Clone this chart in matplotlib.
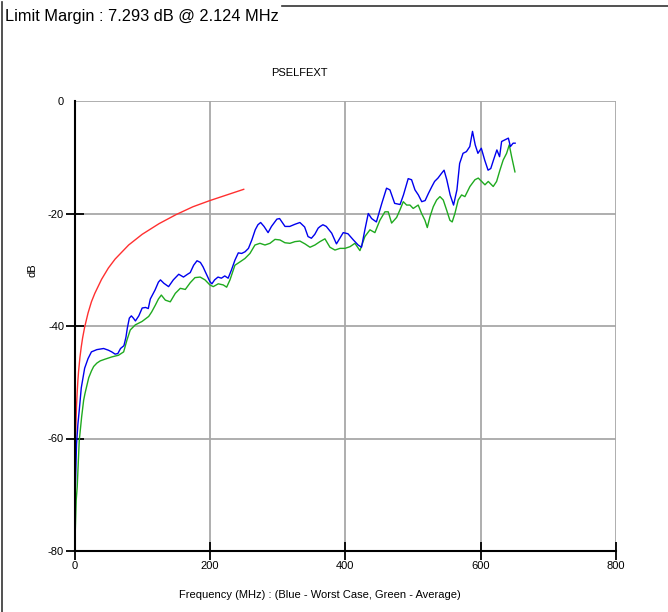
import matplotlib
matplotlib.use("Agg")
import matplotlib.pyplot as plt
from matplotlib.lines import Line2D

plt.rcParams['font.family'] = ['Liberation Sans', 'DejaVu Sans']

# ---- data ----
blue_f = [0.5, 1.0, 2.124, 3, 5, 7, 10, 15, 20, 25, 33, 43, 50, 55, 60, 64, 68, 73, 76, 78,
          81, 84, 87, 90, 95, 100, 105, 109, 112, 119, 124, 127, 132, 139, 146, 154, 161, 167,
          171, 176, 181, 186, 190, 193, 200, 203, 207, 212, 217, 222, 227, 232, 237, 242, 247,
          252, 257, 262, 267, 271, 275, 280, 286, 291, 299, 303, 311, 318, 326, 333, 340, 345,
          350, 355, 360, 363, 367, 372, 380, 387, 392, 397, 404, 412, 419, 424, 429, 434, 439,
          446, 454, 461, 466, 473, 481, 486, 493, 498, 503, 508, 513, 518, 523, 528, 532, 537,
          542, 546, 550, 555, 560, 565, 569, 574, 579, 584, 588, 592, 596, 601, 606, 611, 615,
          619, 624, 628, 631, 636, 641, 644, 648, 651]
blue_db = [-80, -70, -64.5, -61, -57.5, -55, -51, -47.5, -45.8, -44.6, -44.2, -44.0, -44.3,
           -44.6, -45.0, -44.9, -44.0, -43.5, -42.0, -40.4, -38.6, -38.2, -38.6, -39.1, -38.2,
           -36.8, -36.7, -36.9, -35.2, -33.6, -32.2, -31.8, -32.4, -33.0, -31.8, -30.8, -31.3,
           -30.8, -30.5, -29.2, -28.4, -28.7, -29.5, -30.3, -32.1, -32.5, -31.8, -31.3, -31.5,
           -31.1, -31.5, -30.0, -28.3, -27.0, -27.1, -26.8, -26.2, -24.7, -22.9, -22.0, -21.6,
           -22.3, -23.4, -22.3, -21.0, -20.9, -22.3, -22.3, -21.9, -21.6, -22.4, -24.1, -24.4,
           -23.7, -22.6, -22.3, -22.0, -22.3, -23.5, -25.4, -24.4, -23.4, -23.6, -24.7, -25.6,
           -26.0, -22.9, -20.0, -20.9, -21.5, -18.2, -15.5, -15.8, -18.2, -18.4, -16.7, -13.8,
           -14.0, -15.8, -16.7, -17.9, -17.7, -16.4, -15.2, -14.3, -13.7, -12.9, -12.3, -14.0,
           -16.7, -18.5, -15.8, -11.1, -9.3, -9.0, -8.1, -5.4, -7.8, -9.3, -8.4, -10.5, -12.3,
           -12.0, -10.5, -8.7, -9.9, -7.2, -6.9, -6.6, -8.1, -7.5, -7.5]

green_f = [0.7, 1, 2.5, 4, 7, 10.6, 13.5, 15.5, 21, 25, 28.3, 33, 38, 45, 55, 65, 72.6, 77.5,
           82.4, 89.8, 99.7, 109.6, 114, 119.4, 124, 128.3, 134.2, 141.5, 148.9, 156.3, 163.7,
           171, 178, 185.6, 192.8, 200, 205, 212.4, 219.8, 224.8, 229.7, 237, 244.5, 251.8,
           259.2, 266.6, 274, 281.4, 288.8, 296.2, 303.5, 310.9, 318.3, 325.7, 333, 340.5,
           347.9, 355.2, 362.6, 370, 377.4, 384.8, 392.2, 399.6, 407, 414.3, 421.7, 429, 436.5,
           443.8, 451.2, 458.6, 463.5, 468.5, 475.9, 481, 485.7, 490.7, 495.6, 500.4, 507.8,
           512.8, 517.7, 521.2, 525.1, 530, 535, 539.9, 544.8, 549.8, 554.6, 558, 562, 566.9,
           571.9, 576.8, 584.2, 591.6, 596.5, 601.5, 606.4, 611.3, 618.6, 623.6, 628.5, 633.3,
           638.4, 642.3, 645.8, 650.7]
green_db = [-80, -77, -71, -68.6, -60.4, -56.1, -53.2, -52, -49.2, -48, -47.2, -46.6, -46.2,
            -45.9, -45.5, -45.2, -44.6, -42.5, -40.7, -39.8, -39.2, -38.3, -37.5, -36.3, -35.2,
            -34.5, -35.4, -35.7, -34.2, -33.3, -33.5, -32.3, -31.4, -31.3, -31.8, -32.7, -33.0,
            -32.5, -32.7, -33.1, -31.8, -29.2, -28.6, -28.0, -27.1, -25.6, -25.3, -25.6, -25.3,
            -24.6, -24.7, -25.2, -25.3, -25.0, -24.9, -25.4, -26.0, -25.6, -25.0, -24.5, -26.0,
            -26.5, -26.2, -26.2, -25.9, -25.3, -26.6, -24.1, -22.9, -23.4, -21.2, -19.7, -19.7,
            -21.7, -20.7, -19.3, -17.9, -18.5, -18.5, -19.1, -18.5, -20.0, -21.2, -22.5, -20.6,
            -18.8, -17.6, -17.0, -17.6, -19.4, -21.2, -21.5, -20.0, -17.6, -16.7, -17.0, -15.2,
            -14.0, -13.7, -14.3, -14.9, -14.3, -15.2, -14.3, -12.3, -10.5, -9.3, -7.8, -9.9,
            -12.6]

limit_f = [1, 1.5, 2, 3, 4, 5, 6, 8, 10, 12, 15, 20, 25, 30, 40, 50, 60, 80, 100, 125, 150,
           175, 200, 225, 250]
limit_db = [-63.7, -60.2, -57.7, -54.2, -51.7, -49.7, -48.1, -45.6, -43.7, -42.1, -40.2, -37.7,
            -35.7, -34.2, -31.7, -29.7, -28.1, -25.6, -23.7, -21.8, -20.2, -18.8, -17.7, -16.7,
            -15.7]

x_ticks = [0, 200, 400, 600, 800]
y_ticks = [0, -20, -40, -60, -80]

header = "Limit Margin : 7.293 dB @ 2.124 MHz"
chart_title = "PSELFEXT"
x_label = "Frequency (MHz) : (Blue - Worst Case, Green - Average)"
y_label = "dB"

# ---- figure ----
W, H = 668, 612
fig = plt.figure(figsize=(W / 100, H / 100), dpi=100)
fig.patch.set_facecolor("white")

ax = fig.add_axes([74.5 / W, (H - 551) / H, (616 - 74.5) / W, (551 - 101) / H])
ax.set_xlim(0, 800)
ax.set_ylim(-80, 0)

ax.plot(limit_f, limit_db, color="#ff3030", lw=1.0, zorder=3)
ax.plot(green_f, green_db, color="#1faa1f", lw=1.0, zorder=4)
ax.plot(blue_f, blue_db, color="#0000ee", lw=1.0, zorder=5)

ax.set_xticks(x_ticks)
ax.set_yticks(y_ticks)
ax.set_xticklabels([str(v) for v in x_ticks], fontsize=8)
ax.set_yticklabels([str(v) for v in y_ticks], fontsize=8)
ax.tick_params(direction="inout", length=13, width=1.3, color="black", pad=1)
ax.grid(True, color="#a8a8a8", lw=1.3, zorder=1)
ax.set_axisbelow(True)
for s in ("top", "right"):
    ax.spines[s].set_visible(False)
for s in ("left", "bottom"):
    ax.spines[s].set_linewidth(1.5)
    ax.spines[s].set_color("black")
    ax.spines[s].set_zorder(6)
# hide tick mark at the top (0 dB)
for t in ax.yaxis.get_major_ticks():
    if t.get_loc() == 0:
        t.tick1line.set_visible(False)

fig.text(299 / W, 1 - 73 / H, chart_title, ha="center", va="center", fontsize=8)
fig.text(320 / W, 1 - 595 / H, x_label, ha="center", va="center", fontsize=8)
fig.text(33 / W, 1 - 270 / H, y_label, ha="center", va="center", fontsize=8, rotation=90)
fig.text(5 / W, 1 - 17 / H, header, ha="left", va="center", fontsize=11.8)

# group box frame
fig.add_artist(Line2D([2 / W, 2 / W], [0, 1 - 2 / H], transform=fig.transFigure,
                      color="#333333", lw=1.2))
fig.add_artist(Line2D([282 / W, 1], [1 - 6.3 / H, 1 - 6.3 / H], transform=fig.transFigure,
                      color="#333333", lw=1.2))

fig.savefig("out.png", dpi=100)
